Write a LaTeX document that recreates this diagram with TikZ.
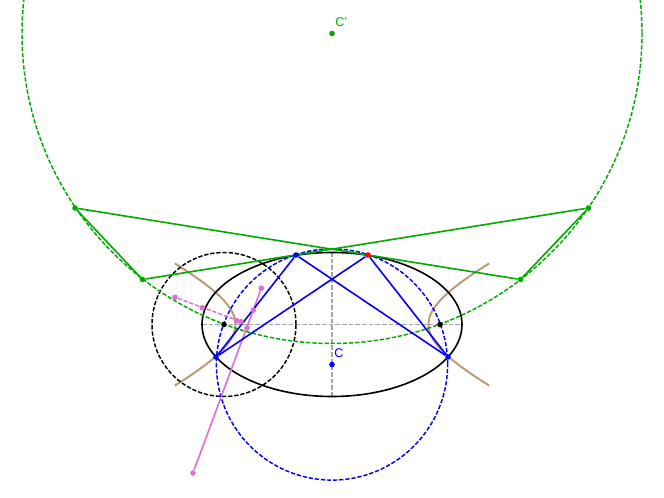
\documentclass[tikz,border=0pt]{standalone}
\usepackage{fontspec}
\setmainfont{Liberation Sans}
\usepackage{tikz}
\usetikzlibrary{backgrounds}
\definecolor{ggreen}{RGB}{0,170,0}
\definecolor{gtan}{RGB}{188,155,122}
\definecolor{gorchid}{RGB}{218,112,214}
\definecolor{ggray}{RGB}{165,165,165}
\tikzset{
  pt/.style={circle, fill=#1, inner sep=0pt, minimum size=4.2pt},
  curve/.style={line width=1.2pt},
  dashcurve/.style={line width=1.1pt, dash pattern=on 3.2pt off 1.4pt},
  axis/.style={ggray, line width=0.9pt, dash pattern=on 3.5pt off 1.5pt},
  ptlabel/.style={anchor=base west, inner sep=0pt, font=\fontsize{9.5}{11}\selectfont}
}
\begin{document}
\begin{tikzpicture}[x=0.75pt, y=-0.75pt]
        \useasboundingbox (0,0) rectangle (664,498);

        % Centres and ends of the axes
        \coordinate (centre) at (332,324.5);
        \coordinate (axisW) at (202,324.5);
        \coordinate (axisE) at (462,324.5);
        \coordinate (axisN) at (332,252);
        \coordinate (axisS) at (332,397);

        % Points of each colour
        \node[pt=blue] (C) at (332,364.5) {};
        \node[pt=ggreen] (Cp) at (332,33.5) {};
        \node[pt=black] (focusW) at (224,324.5) {};
        \node[pt=black] (focusE) at (440,324.5) {};
        \node[pt=ggreen] (tanNW) at (75,208) {};
        \node[pt=ggreen] (tanSW) at (142.5,279.5) {};
        \node[pt=ggreen] (tanSE) at (520.5,279.5) {};
        \node[pt=ggreen] (tanNE) at (588.5,208) {};
        \node[pt=gorchid] (pinkA) at (175,297.3) {};
        \node[pt=gorchid] (pinkB) at (202.3,307.7) {};
        \node[pt=gorchid] (pinkC) at (236.7,320.7) {};
        \node[pt=gorchid] (pinkD) at (241,321.7) {};
        \node[pt=gorchid] (pinkE) at (247,328) {};
        \node[pt=gorchid] (pinkF) at (253.3,310.3) {};
        \node[pt=gorchid] (pinkG) at (261.3,288.3) {};
        \node[pt=gorchid] (pinkH) at (193,473) {};
        \node[pt=blue] (quadSW) at (216,357) {};
        \node[pt=blue] (quadN) at (296,255) {};
        \node[pt=blue] (quadSE) at (448,357) {};
        \node[pt=red] (quadNE) at (368,255) {};

        % Labels
        \node[ptlabel, text=ggreen] (labelCp) at (335,27) {C'};
        \node[ptlabel, text=blue] (labelC) at (334,358) {C};

        % All lines go under the points
        \begin{pgfonlayer}{background}
        \clip (0,0) rectangle (664,498);

        % Axes
        \draw[axis] (axisW) -- (axisE);
        \draw[axis] (axisN) -- (axisS);

        % Conics
        \draw[gtan, line width=1.5pt] plot[smooth, domain=-1.07:1.07, samples=41] ({332-96.5*cosh(\x)},{324.5+47.5*sinh(\x)});
        \draw[gtan, line width=1.5pt] plot[smooth, domain=-1.07:1.07, samples=41] ({332+96.5*cosh(\x)},{324.5+47.5*sinh(\x)});
        \draw[black, curve] (centre) ellipse [x radius=97.5pt, y radius=54pt];

        % Circles
        \draw[black, dashcurve] (focusW) circle [radius=54pt];
        \draw[blue, dashcurve] (C) circle [radius=86.7pt];
        \draw[ggreen, dashcurve] (Cp) circle [radius=232.5pt];

        % Green lines
        \draw[ggreen, curve] (tanNW) -- (tanSE);
        \draw[ggreen, curve] (tanNE) -- (tanSW);
        \draw[ggreen, curve] (tanNW) -- (tanSW);
        \draw[ggreen, curve] (tanNE) -- (tanSE);

        % Pink lines
        \draw[gorchid, dashcurve] (pinkA) -- (pinkD);
        \draw[gorchid, curve] (pinkG) -- (pinkH);

        % Blue quadrilateral
        \draw[blue, curve] (quadSW) -- (quadN);
        \draw[blue, curve] (quadN) -- (quadSE);
        \draw[blue, curve] (quadSE) -- (quadNE);
        \draw[blue, curve] (quadNE) -- (quadSW);
        \end{pgfonlayer}
    \end{tikzpicture}
\end{document}
